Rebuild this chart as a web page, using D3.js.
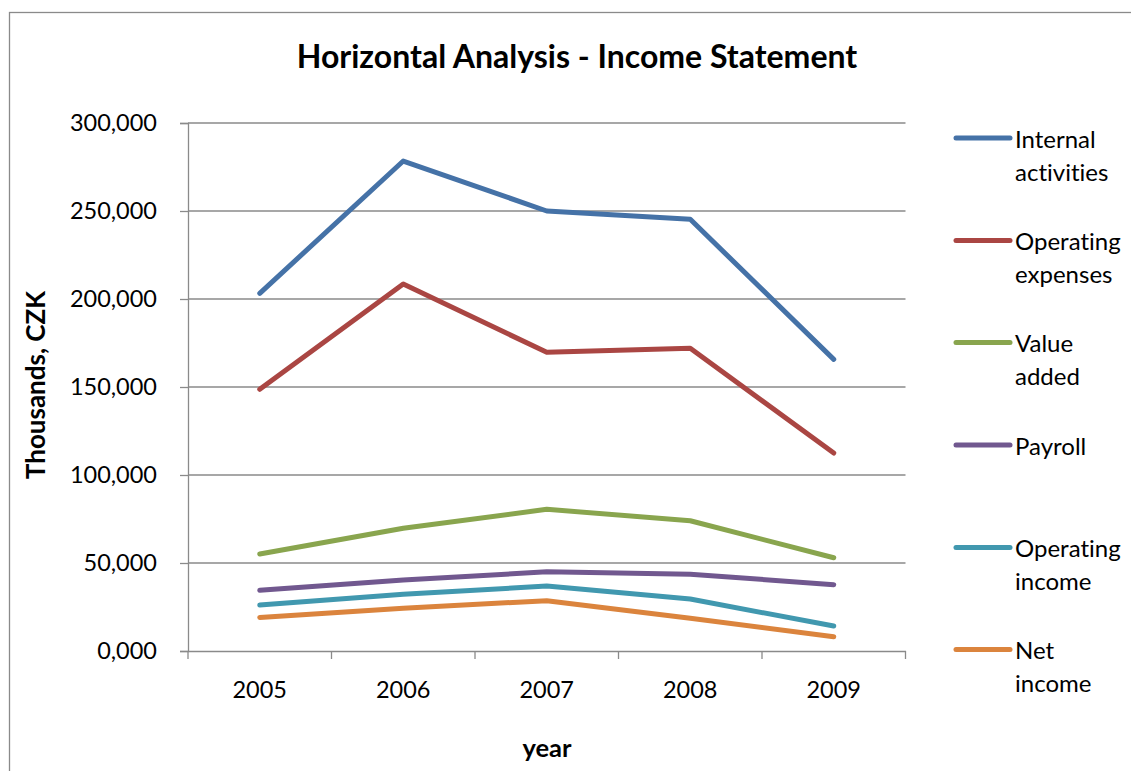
<!DOCTYPE html>
<html>
<head>
<meta charset="utf-8">
<script src="https://cdn.jsdelivr.net/npm/d3@7"></script>
<style>
  html, body { margin: 0; padding: 0; background: #fff; }
  svg { display: block; font-family: Lato, "Open Sans", sans-serif; font-variant-ligatures: none; font-feature-settings: "liga" 0, "clig" 0; }
</style>
</head>
<body>
<svg id="chart" width="1131" height="771"></svg>
<script>
const years = ["2005", "2006", "2007", "2008", "2009"];
const yTicks = [0, 50000, 100000, 150000, 200000, 250000, 300000];
const seriesNames = ["Internal activities", "Operating expenses", "Value added", "Payroll", "Operating income", "Net income"];
const seriesColors = ["#4572A7", "#AA4643", "#89A54E", "#71588F", "#4198AF", "#DB843D"];
const internalActivities = [203200, 278400, 250000, 245300, 165700];
const operatingExpenses = [148700, 208500, 169700, 172000, 112500];
const valueAdded = [55100, 69700, 80500, 74000, 53000];
const payroll = [34500, 40300, 45000, 43600, 37700];
const operatingIncome = [26100, 32200, 36900, 29500, 14200];
const netIncome = [19100, 24300, 28600, 18600, 8100];
const seriesValues = [internalActivities, operatingExpenses, valueAdded, payroll, operatingIncome, netIncome];

const svg = d3.select("#chart");
const plotLeft = 188, plotRight = 905.5, plotTop = 123, plotBottom = 651;
const grid = "#8a8a8a";
const labelSize = 23.5;

// chart border
svg.append("rect").attr("x", 9.5).attr("y", 12.5).attr("width", 1140).attr("height", 800)
  .attr("fill", "none").attr("stroke", grid).attr("stroke-width", 1.3);

// title
svg.append("text").attr("x", 577).attr("y", 55).attr("text-anchor", "middle")
  .attr("dominant-baseline", "central").attr("font-size", 32).attr("font-weight", "bold")
  .text("Horizontal Analysis - Income Statement");

const x = d3.scaleBand().domain(years).range([plotLeft, plotRight]);
const y = d3.scaleLinear().domain([0, 300000]).range([plotBottom, plotTop]);

// gridlines
svg.append("g").selectAll("line").data(yTicks.filter(d => d > 0)).join("line")
  .attr("x1", plotLeft).attr("x2", plotRight)
  .attr("y1", d => y(d)).attr("y2", d => y(d))
  .attr("stroke", grid).attr("stroke-width", 1.3);

const fmt = d => d === 0 ? "0,000" : d3.format(",")(d);

// y axis
const yAxis = svg.append("g").attr("transform", `translate(${plotLeft},0)`)
  .call(d3.axisLeft(y).tickValues(yTicks).tickFormat(fmt).tickSize(8).tickPadding(23));
yAxis.select(".domain").attr("stroke", grid).attr("stroke-width", 1.3);
yAxis.selectAll(".tick line").attr("stroke", grid).attr("stroke-width", 1.3);
yAxis.selectAll(".tick text").attr("font-size", labelSize).attr("fill", "#000")
  .attr("font-family", "Lato, 'Open Sans', sans-serif");

// x axis
const xAxis = svg.append("g").attr("transform", `translate(0,${plotBottom})`)
  .call(d3.axisBottom(x).tickSize(0).tickPadding(30));
xAxis.select(".domain").attr("stroke", grid).attr("stroke-width", 1.3);
xAxis.selectAll(".tick text").attr("font-size", labelSize).attr("fill", "#000")
  .attr("font-family", "Lato, 'Open Sans', sans-serif");
// category boundary ticks
const bounds = years.map(d => x(d)).concat([x(years[years.length - 1]) + x.bandwidth()]);
svg.append("g").selectAll("line").data(bounds).join("line")
  .attr("x1", d => d).attr("x2", d => d).attr("y1", plotBottom).attr("y2", plotBottom + 8)
  .attr("stroke", grid).attr("stroke-width", 1.3);

// axis titles
svg.append("text").attr("transform", `translate(35,385) rotate(-90)`)
  .attr("text-anchor", "middle").attr("dominant-baseline", "central")
  .attr("font-size", 26).attr("font-weight", "bold").text("Thousands, CZK");
svg.append("text").attr("x", 547).attr("y", 747).attr("text-anchor", "middle")
  .attr("dominant-baseline", "central").attr("font-size", 25.5).attr("font-weight", "bold").text("year");

// lines
const line = d3.line().x((d, i) => x(years[i]) + x.bandwidth() / 2).y(d => y(d));
svg.append("g").selectAll("path").data(seriesValues).join("path")
  .attr("d", d => line(d)).attr("fill", "none")
  .attr("stroke", (d, i) => seriesColors[i]).attr("stroke-width", 5)
  .attr("stroke-linecap", "round").attr("stroke-linejoin", "round");

// legend
const legendY = [138, 240.5, 342.5, 445, 547.5, 649.5];
const lg = svg.append("g").selectAll("g").data(seriesNames).join("g")
  .attr("transform", (d, i) => `translate(0,${legendY[i]})`);
lg.append("line").attr("x1", 956).attr("x2", 1010).attr("y1", 0).attr("y2", 0)
  .attr("stroke", (d, i) => seriesColors[i]).attr("stroke-width", 5).attr("stroke-linecap", "round");
lg.each(function(d) {
  const words = d.split(" ");
  const t = d3.select(this).append("text").attr("x", 1015).attr("font-size", 24).attr("fill", "#000");
  words.forEach((w, j) => {
    t.append("tspan").attr("x", 1015).attr("y", j * 33).attr("dominant-baseline", "central").text(w);
  });
});
</script>
</body>
</html>
